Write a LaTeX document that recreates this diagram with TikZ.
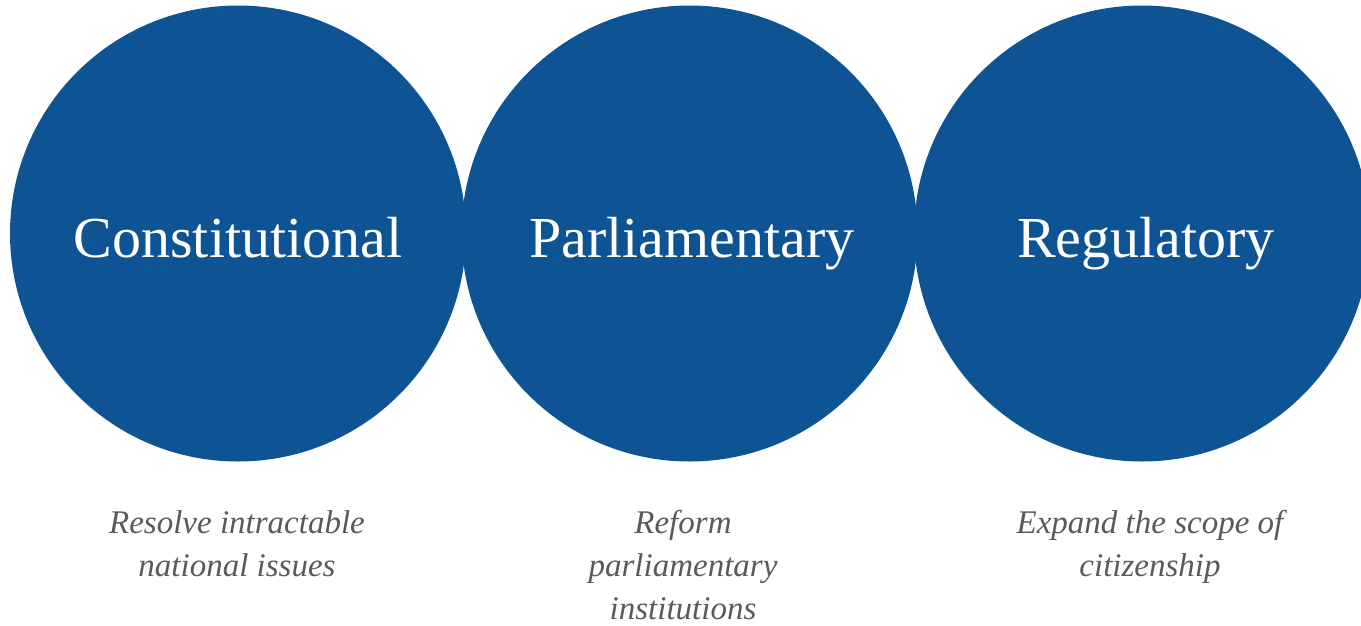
\documentclass[tikz,border=0pt]{standalone}
\usepackage{fontspec}
\setmainfont{Liberation Serif}
\definecolor{discblue}{RGB}{14,83,148}
\definecolor{captiongrey}{RGB}{90,90,90}
\begin{document}
\begin{tikzpicture}[x=1pt,y=-1pt,
  disc/.style={circle,fill=discblue,minimum size=456pt,inner sep=0pt},
  title/.style={anchor=base,text=white,font=\fontsize{58}{60}\selectfont},
  caption/.style={anchor=north,inner sep=0pt,text=captiongrey,align=center,font=\itshape\fontsize{33}{43}\selectfont}]
\useasboundingbox (0,0) rectangle (1361,625);
\clip (0,0) rectangle (1361,625);
\node[disc] (c1) at (238,233.5) {};
\node[disc] (c2) at (689.5,233.5) {};
\node[disc] (c3) at (1142,233.5) {};
\node[title] (t1) at (238,257) {Constitutional};
\node[title] (t2) at (692,257) {Parliamentary};
\node[title] (t3) at (1146,257) {Regulatory};
\node[caption] (d1) at (237,510) {Resolve intractable\\national issues};
\node[caption] (d2) at (683,510) {Reform\\parliamentary\\institutions};
\node[caption] (d3) at (1150,510) {Expand the scope of\\citizenship};
\end{tikzpicture}
\end{document}
